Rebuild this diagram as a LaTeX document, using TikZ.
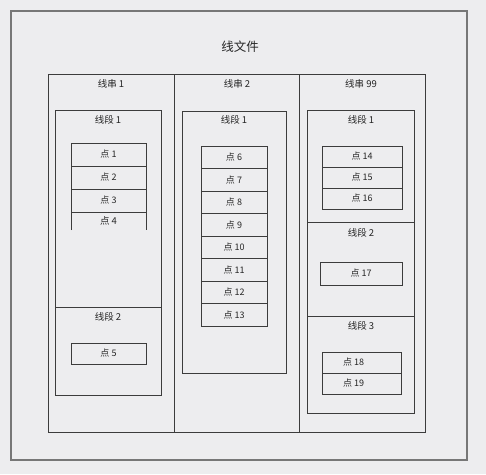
\documentclass[tikz,border=0pt]{standalone}
\usepackage{fontspec}
\newfontfamily\cjk{Noto Sans CJK SC}
\definecolor{sfondo}{HTML}{EDEDEF}
\definecolor{linea}{HTML}{3C3C3C}
\definecolor{bordo}{HTML}{777777}
\tikzset{
    box/.style={draw=linea, line width=0.8pt},
    lbl/.style={font=\cjk\fontsize{9.5}{11}\selectfont, text=black!85, inner sep=1pt},
    cell/.style={draw=linea, line width=0.8pt, inner sep=0pt, minimum width=#1,
                 font=\cjk\fontsize{9}{10}\selectfont, text=black!85},
}
\begin{document}
\begin{tikzpicture}[x=1pt, y=-1pt]
    % Sfondo
    \fill[sfondo] (0,0) rectangle (486,474);
    \useasboundingbox (0,0) rectangle (486,474);

    % File
    \draw[draw=bordo, line width=1.2pt] (11,11) rectangle (467,460);
    \node[lbl, font=\cjk\fontsize{12.5}{14}\selectfont] (file) at (240,47) {线文件};

    % Colonne
    \draw[box] (48,74) rectangle (425,432);
    \draw[box] (174,74) -- (174,432);
    \draw[box] (299,74) -- (299,432);
    \node[lbl] (s1) at (111,84) {线串 1};
    \node[lbl] (s2) at (237,84) {线串 2};
    \node[lbl] (s99) at (361,84) {线串 99};

    % Colonna 1
    \draw[box] (55,110) rectangle (161,395);
    \draw[box] (55,307) -- (161,307);
    \node[lbl] (a1) at (108,120) {线段 1};
    \node[lbl] (a2) at (108,317) {线段 2};
    \foreach \i in {1,2,3}
        \node[cell=75pt, minimum height=23pt] (p\i) at (108.5, 131.5+23*\i) {点 \i};
    \draw[box] (71,230) -- (71,212) -- (146,212) -- (146,230);
    \node[lbl] (p4) at (108.5,221) {点 4};
    \node[cell=75pt, minimum height=21pt] (p5) at (108.5,353.5) {点 5};

    % Colonna 2
    \draw[box] (182,111) rectangle (286,373);
    \node[lbl] (b1) at (234,120) {线段 1};
    \foreach \i [count=\k from 0] in {6,...,13}
        \node[cell=66pt, minimum height=22.5pt] (p\i) at (234, 157.25+22.5*\k) {点 \i};

    % Colonna 3
    \draw[box] (307,110) rectangle (414,413);
    \draw[box] (307,222) -- (414,222);
    \draw[box] (307,316) -- (414,316);
    \node[lbl] (c1) at (361,120) {线段 1};
    \node[lbl] (c2) at (361,233) {线段 2};
    \node[lbl] (c3) at (361,326) {线段 3};
    \foreach \i [count=\k from 0] in {14,15,16}
        \node[cell=80pt, minimum height=21pt] (p\i) at (362, 156.5+21*\k) {点 \i};
    \node[cell=82pt, minimum height=23pt] (p17) at (361,273.5) {点 17};
    \foreach \i [count=\k from 0] in {18,19} {
        \node[cell=79pt, minimum height=21pt] (q\i) at (361.5, 362.5+21*\k) {};
        \node[lbl, font=\cjk\fontsize{9}{10}\selectfont] (p\i) at ([xshift=-8pt]q\i.center) {点 \i};
    }
\end{tikzpicture}
\end{document}
